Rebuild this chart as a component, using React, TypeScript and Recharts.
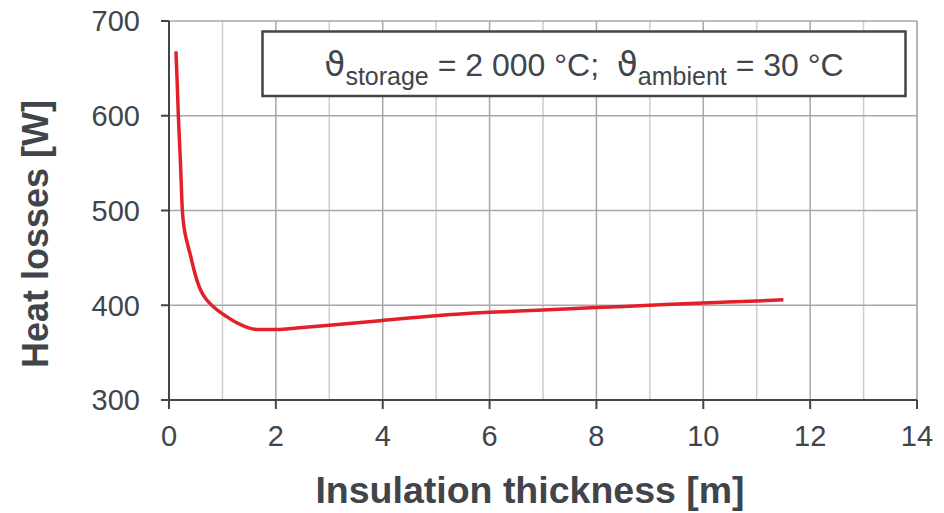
import React from "react";
import {
  LineChart,
  Line,
  XAxis,
  YAxis,
  CartesianGrid,
} from "recharts";

// insulation thickness [m]
const thickness = [
  0.13, 0.15, 0.175, 0.215, 0.25, 0.275, 0.3, 0.34, 0.4, 0.46, 0.53, 0.6, 0.7,
  0.82, 0.95, 1.08, 1.25, 1.45, 1.64, 2.0, 2.5, 3.0, 4.0, 5.0, 6.0, 7.0, 8.0,
  9.0, 10.0, 11.0, 11.5,
];
// heat losses [W]
const losses = [
  668, 640, 600, 550, 500, 485, 476, 466, 453, 439, 425, 415, 406, 399, 393,
  388, 382, 377, 374.5, 374.5, 376.5, 379, 384, 389, 392.5, 395, 397.5, 400,
  402.5, 404.5, 405.8,
];

const xTicks = [0, 2, 4, 6, 8, 10, 12, 14];
const xMinorTicks = [1, 3, 5, 7, 9, 11, 13];
const yTicks = [300, 400, 500, 600, 700];

const data = thickness.map((t, i) => ({ t, loss: losses[i] }));

const FONT = "'Liberation Sans', Arial, 'DejaVu Sans', sans-serif";
const DARK = "#40454c";

const EmptyTick = () => <g />;

const App: React.FC = () => {
  return (
    <div style={{ position: "absolute", left: 0, top: 0, width: 944, height: 513 }}>
      <LineChart
        width={944}
        height={513}
        data={data}
        margin={{ top: 21, right: 27, bottom: 53, left: 69 }}
      >
        <CartesianGrid
          xAxisId="top"
          yAxisId="left"
          horizontal={false}
          stroke="#cdcdcd"
          strokeWidth={1.5}
        />
        <CartesianGrid
          xAxisId="main"
          yAxisId="left"
          stroke="#a8a8a8"
          strokeWidth={1.5}
        />
        <XAxis
          xAxisId="main"
          dataKey="t"
          type="number"
          domain={[0, 14]}
          ticks={xTicks}
          height={60}
          stroke={DARK}
          strokeWidth={2}
          tickSize={9}
          tickMargin={16}
          tick={{ fill: DARK, fontSize: 29, fontFamily: FONT }}
        />
        <XAxis
          xAxisId="top"
          orientation="top"
          dataKey="t"
          type="number"
          domain={[0, 14]}
          ticks={xMinorTicks}
          height={0}
          tick={<EmptyTick />}
          tickLine={false}
          stroke={DARK}
          strokeWidth={2}
        />
        <YAxis
          yAxisId="left"
          type="number"
          domain={[300, 700]}
          ticks={yTicks}
          width={100}
          stroke={DARK}
          strokeWidth={2}
          tickSize={8}
          tickMargin={21}
          tick={{ fill: DARK, fontSize: 29, fontFamily: FONT }}
        />
        <YAxis
          yAxisId="right"
          orientation="right"
          type="number"
          domain={[300, 700]}
          width={0}
          tick={false}
          tickLine={false}
          stroke={DARK}
          strokeWidth={2}
        />
        <Line
          xAxisId="main"
          yAxisId="left"
          type="monotone"
          dataKey="loss"
          stroke="#e3202a"
          strokeWidth={3.5}
          dot={false}
          isAnimationActive={false}
        />
      </LineChart>
      <svg
        width={944}
        height={513}
        style={{ position: "absolute", left: 0, top: 0, pointerEvents: "none" }}
      >
        <rect
          x={262.5}
          y={31.5}
          width={643}
          height={64.5}
          fill="#ffffff"
          stroke={DARK}
          strokeWidth={2.5}
        />
        <text
          x={584}
          y={76}
          textAnchor="middle"
          fill={DARK}
          fontSize={32}
          fontFamily={FONT}
        >
          <tspan fontFamily="'DejaVu Sans', sans-serif" fontSize={34}>ϑ</tspan>
          <tspan fontSize={25} dy={9}>storage</tspan>
          <tspan dy={-9}>{" = 2 000 °C;\u00a0\u00a0"}</tspan>
          <tspan fontFamily="'DejaVu Sans', sans-serif" fontSize={34}>ϑ</tspan>
          <tspan fontSize={25} dy={9}>ambient</tspan>
          <tspan dy={-9}> = 30 °C</tspan>
        </text>
        <text
          x={530}
          y={503}
          textAnchor="middle"
          fill={DARK}
          fontSize={37.5}
          fontWeight="bold"
          fontFamily={FONT}
        >
          Insulation thickness [m]
        </text>
        <text
          transform="translate(48 234) rotate(-90)"
          textAnchor="middle"
          fill={DARK}
          fontSize={36}
          fontWeight="bold"
          fontFamily={FONT}
        >
          Heat losses [W]
        </text>
      </svg>
    </div>
  );
};

export default App;
